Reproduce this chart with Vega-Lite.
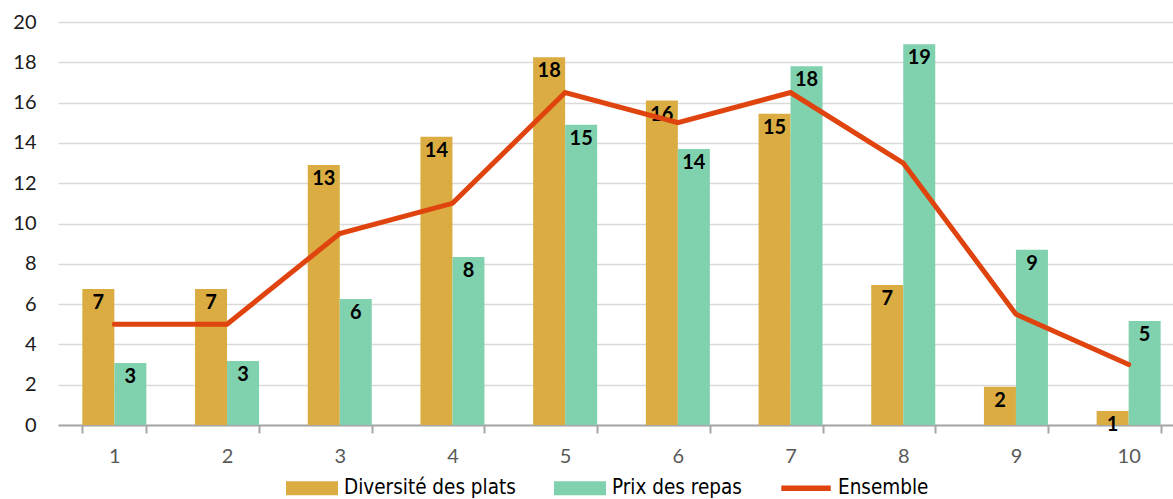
{
  "$schema": "https://vega.github.io/schema/vega-lite/v6.json",
  "autosize": "none",
  "width": 1127,
  "height": 403,
  "padding": {"left": 58, "top": 22, "right": 0, "bottom": 74},
  "background": "white",
  "config": {"view": {"stroke": null}},
  "data": {
    "values": [
      {"cat": "1", "serie": "Diversité des plats", "value": 6.75},
      {"cat": "2", "serie": "Diversité des plats", "value": 6.75},
      {"cat": "3", "serie": "Diversité des plats", "value": 12.9},
      {"cat": "4", "serie": "Diversité des plats", "value": 14.3},
      {"cat": "5", "serie": "Diversité des plats", "value": 18.25},
      {"cat": "6", "serie": "Diversité des plats", "value": 16.1},
      {"cat": "7", "serie": "Diversité des plats", "value": 15.45},
      {"cat": "8", "serie": "Diversité des plats", "value": 6.95},
      {"cat": "9", "serie": "Diversité des plats", "value": 1.9},
      {"cat": "10", "serie": "Diversité des plats", "value": 0.7},
      {"cat": "1", "serie": "Prix des repas", "value": 3.08},
      {"cat": "2", "serie": "Prix des repas", "value": 3.18},
      {"cat": "3", "serie": "Prix des repas", "value": 6.25},
      {"cat": "4", "serie": "Prix des repas", "value": 8.34},
      {"cat": "5", "serie": "Prix des repas", "value": 14.9},
      {"cat": "6", "serie": "Prix des repas", "value": 13.7},
      {"cat": "7", "serie": "Prix des repas", "value": 17.8},
      {"cat": "8", "serie": "Prix des repas", "value": 18.9},
      {"cat": "9", "serie": "Prix des repas", "value": 8.7},
      {"cat": "10", "serie": "Prix des repas", "value": 5.16},
      {"cat": "1", "serie": "Ensemble", "value": 5.0},
      {"cat": "2", "serie": "Ensemble", "value": 5.0},
      {"cat": "3", "serie": "Ensemble", "value": 9.5},
      {"cat": "4", "serie": "Ensemble", "value": 11.0},
      {"cat": "5", "serie": "Ensemble", "value": 16.5},
      {"cat": "6", "serie": "Ensemble", "value": 15.0},
      {"cat": "7", "serie": "Ensemble", "value": 16.5},
      {"cat": "8", "serie": "Ensemble", "value": 13.0},
      {"cat": "9", "serie": "Ensemble", "value": 5.5},
      {"cat": "10", "serie": "Ensemble", "value": 3.0}
    ]
  },
  "encoding": {
    "x": {
      "field": "cat",
      "type": "ordinal",
      "sort": ["1","2","3","4","5","6","7","8","9","10"],
      "scale": {"paddingInner": 0.432, "paddingOuter": 0.216},
      "axis": {
        "title": null,
        "labelAngle": 0,
        "labelFont": "Lato",
        "labelFontSize": 20,
        "labelColor": "#595959",
        "labelPadding": 13,
        "domainColor": "#A6A6A6",
        "domainWidth": 2,
        "tickColor": "#A6A6A6",
        "tickWidth": 2,
        "tickSize": 8,
        "tickBand": "extent",
        "grid": false
      }
    },
    "y": {
      "field": "value",
      "type": "quantitative",
      "scale": {"domain": [0, 20], "nice": false},
      "axis": {
        "title": null,
        "values": [0,2,4,6,8,10,12,14,16,18,20],
        "labelFont": "Lato",
        "labelFontSize": 20,
        "labelColor": "#1a1a1a",
        "labelPadding": 22,
        "domain": false,
        "ticks": false,
        "grid": true,
        "gridColor": "#D9D9D9",
        "gridWidth": 1.5
      }
    }
  },
  "layer": [
    {
      "transform": [{"filter": "datum.serie !== 'Ensemble'"}],
      "mark": {"type": "bar"},
      "encoding": {
        "xOffset": {"field": "serie", "type": "nominal", "sort": ["Diversité des plats", "Prix des repas"], "scale": {"paddingInner": 0, "paddingOuter": 0}},
        "color": {
          "field": "serie",
          "type": "nominal",
          "scale": {
            "domain": ["Diversité des plats", "Prix des repas", "Ensemble"],
            "range": ["#DBAC41", "#80D1AE", "#E0440E"]
          },
          "legend": {
            "title": null,
            "orient": "none",
            "direction": "horizontal",
            "legendX": 228,
            "legendY": 440,
            "labelFont": "DejaVu Sans Condensed",
            "labelFontSize": 20.5,
            "labelLimit": 400,
            "labelColor": "#000000",
            "labelOffset": 6,
            "columnPadding": 38,
            "symbolSize": 2704,
            "symbolStrokeWidth": 0,
            "symbolType": "M-1,-0.27H1V0.27H-1Z",
            "encode": {
              "symbols": {
                "update": {
                  "shape": {"signal": "datum.label === 'Ensemble' ? 'M-0.95,-0.11H0.95V0.11H-0.95Z' : 'M-1,-0.27H1V0.27H-1Z'"}
                }
              }
            }
          }
        }
      }
    },
    {
      "transform": [{"filter": "datum.serie !== 'Ensemble'"}],
      "mark": {"type": "text", "baseline": "middle", "dy": 14, "font": "Lato", "fontWeight": "bold", "fontSize": 20, "color": "#000000"},
      "encoding": {
        "xOffset": {"field": "serie", "type": "nominal", "sort": ["Diversité des plats", "Prix des repas"], "scale": {"paddingInner": 0, "paddingOuter": 0}},
        "text": {"field": "value", "type": "quantitative", "format": ".0f"}
      }
    },
    {
      "transform": [{"filter": "datum.serie === 'Ensemble'"}],
      "mark": {"type": "line", "color": "#E0440E", "strokeWidth": 5, "strokeCap": "round", "strokeJoin": "miter"},
      "encoding": {}
    }
  ]
}
